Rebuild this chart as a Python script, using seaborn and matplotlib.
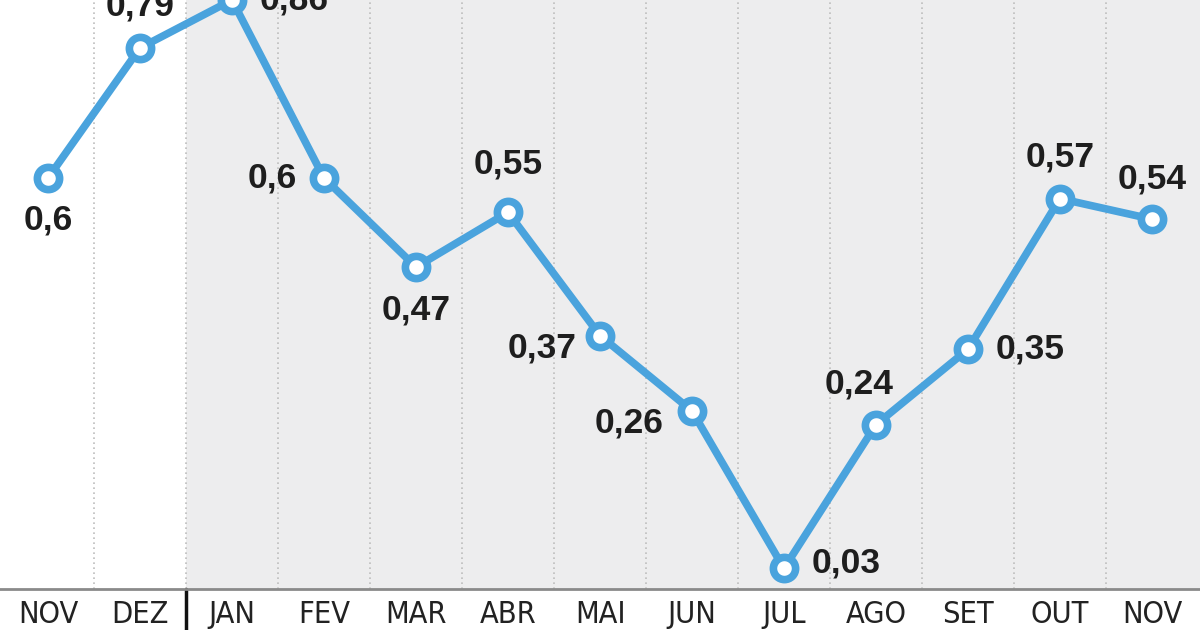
import seaborn as sns
import pandas as pd
import matplotlib.pyplot as plt
import matplotlib.transforms as mtransforms

months = ["NOV", "DEZ", "JAN", "FEV", "MAR", "ABR", "MAI", "JUN", "JUL", "AGO", "SET", "OUT", "NOV"]
values = [0.60, 0.79, 0.86, 0.60, 0.47, 0.55, 0.37, 0.26, 0.03, 0.24, 0.35, 0.57, 0.54]
labels = ["0,6", "0,79", "0,86", "0,6", "0,47", "0,55", "0,37", "0,26", "0,03", "0,24", "0,35", "0,57", "0,54"]
# label offsets (points) relative to each marker
offsets = [(0, -30), (0, 30), (45, 0), (-37, 0), (0, -31), (0, 35), (-42, -9), (-45, -9),
           (45, 4), (-12, 29), (45, 0), (0, 30), (0, 29)]

sns.set_style("white")
plt.rcParams['font.family'] = ['Liberation Sans', 'DejaVu Sans']

blue = "#4aa3dd"
df = pd.DataFrame({"x": range(len(values)), "v": values})

fig = plt.figure(figsize=(12, 6.3), dpi=100)
ax = fig.add_axes([0, 41 / 630, 1, 589 / 630])

ax.axvspan(1.5, 12.6, color="#ededee", zorder=0, lw=0)
for i in range(len(months) - 1):
    ax.axvline(i + 0.5, color="#bdbdbd", ls=(0, (1, 2)), lw=1.2, zorder=1)

sns.lineplot(data=df, x="x", y="v", ax=ax, color=blue, lw=5.5, marker="o",
             markersize=16, markerfacecolor="white", markeredgecolor=blue,
             markeredgewidth=5.5, clip_on=False, zorder=5)

for i, (v, lab, off) in enumerate(zip(values, labels, offsets)):
    ax.annotate(lab, (i, v), xytext=off, textcoords="offset points",
                ha="center", va="center", fontsize=25.5, fontweight="bold",
                color="#1e1e1e", zorder=6, annotation_clip=False)

ax.set_xlim(-0.522, 12.522)
ax.set_ylim(0, 0.86)
ax.set_yticks([])
ax.set_xticks(range(len(months)))
ax.set_xticklabels(months, fontsize=22, color="#222222",
                   family=['Liberation Sans Narrow', 'DejaVu Sans'], fontstretch="condensed")
ax.tick_params(axis="x", length=0, pad=8)
ax.set_xlabel("")
ax.set_ylabel("")
for s in ["top", "left", "right"]:
    ax.spines[s].set_visible(False)
ax.spines["bottom"].set_color("#8a8a8a")
ax.spines["bottom"].set_linewidth(2)

trans = mtransforms.blended_transform_factory(ax.transData, ax.transAxes)
ax.plot([1.5, 1.5], [0, -0.08], transform=trans, color="#111111", lw=2.5, clip_on=False)

fig.savefig("out.png", dpi=100)
